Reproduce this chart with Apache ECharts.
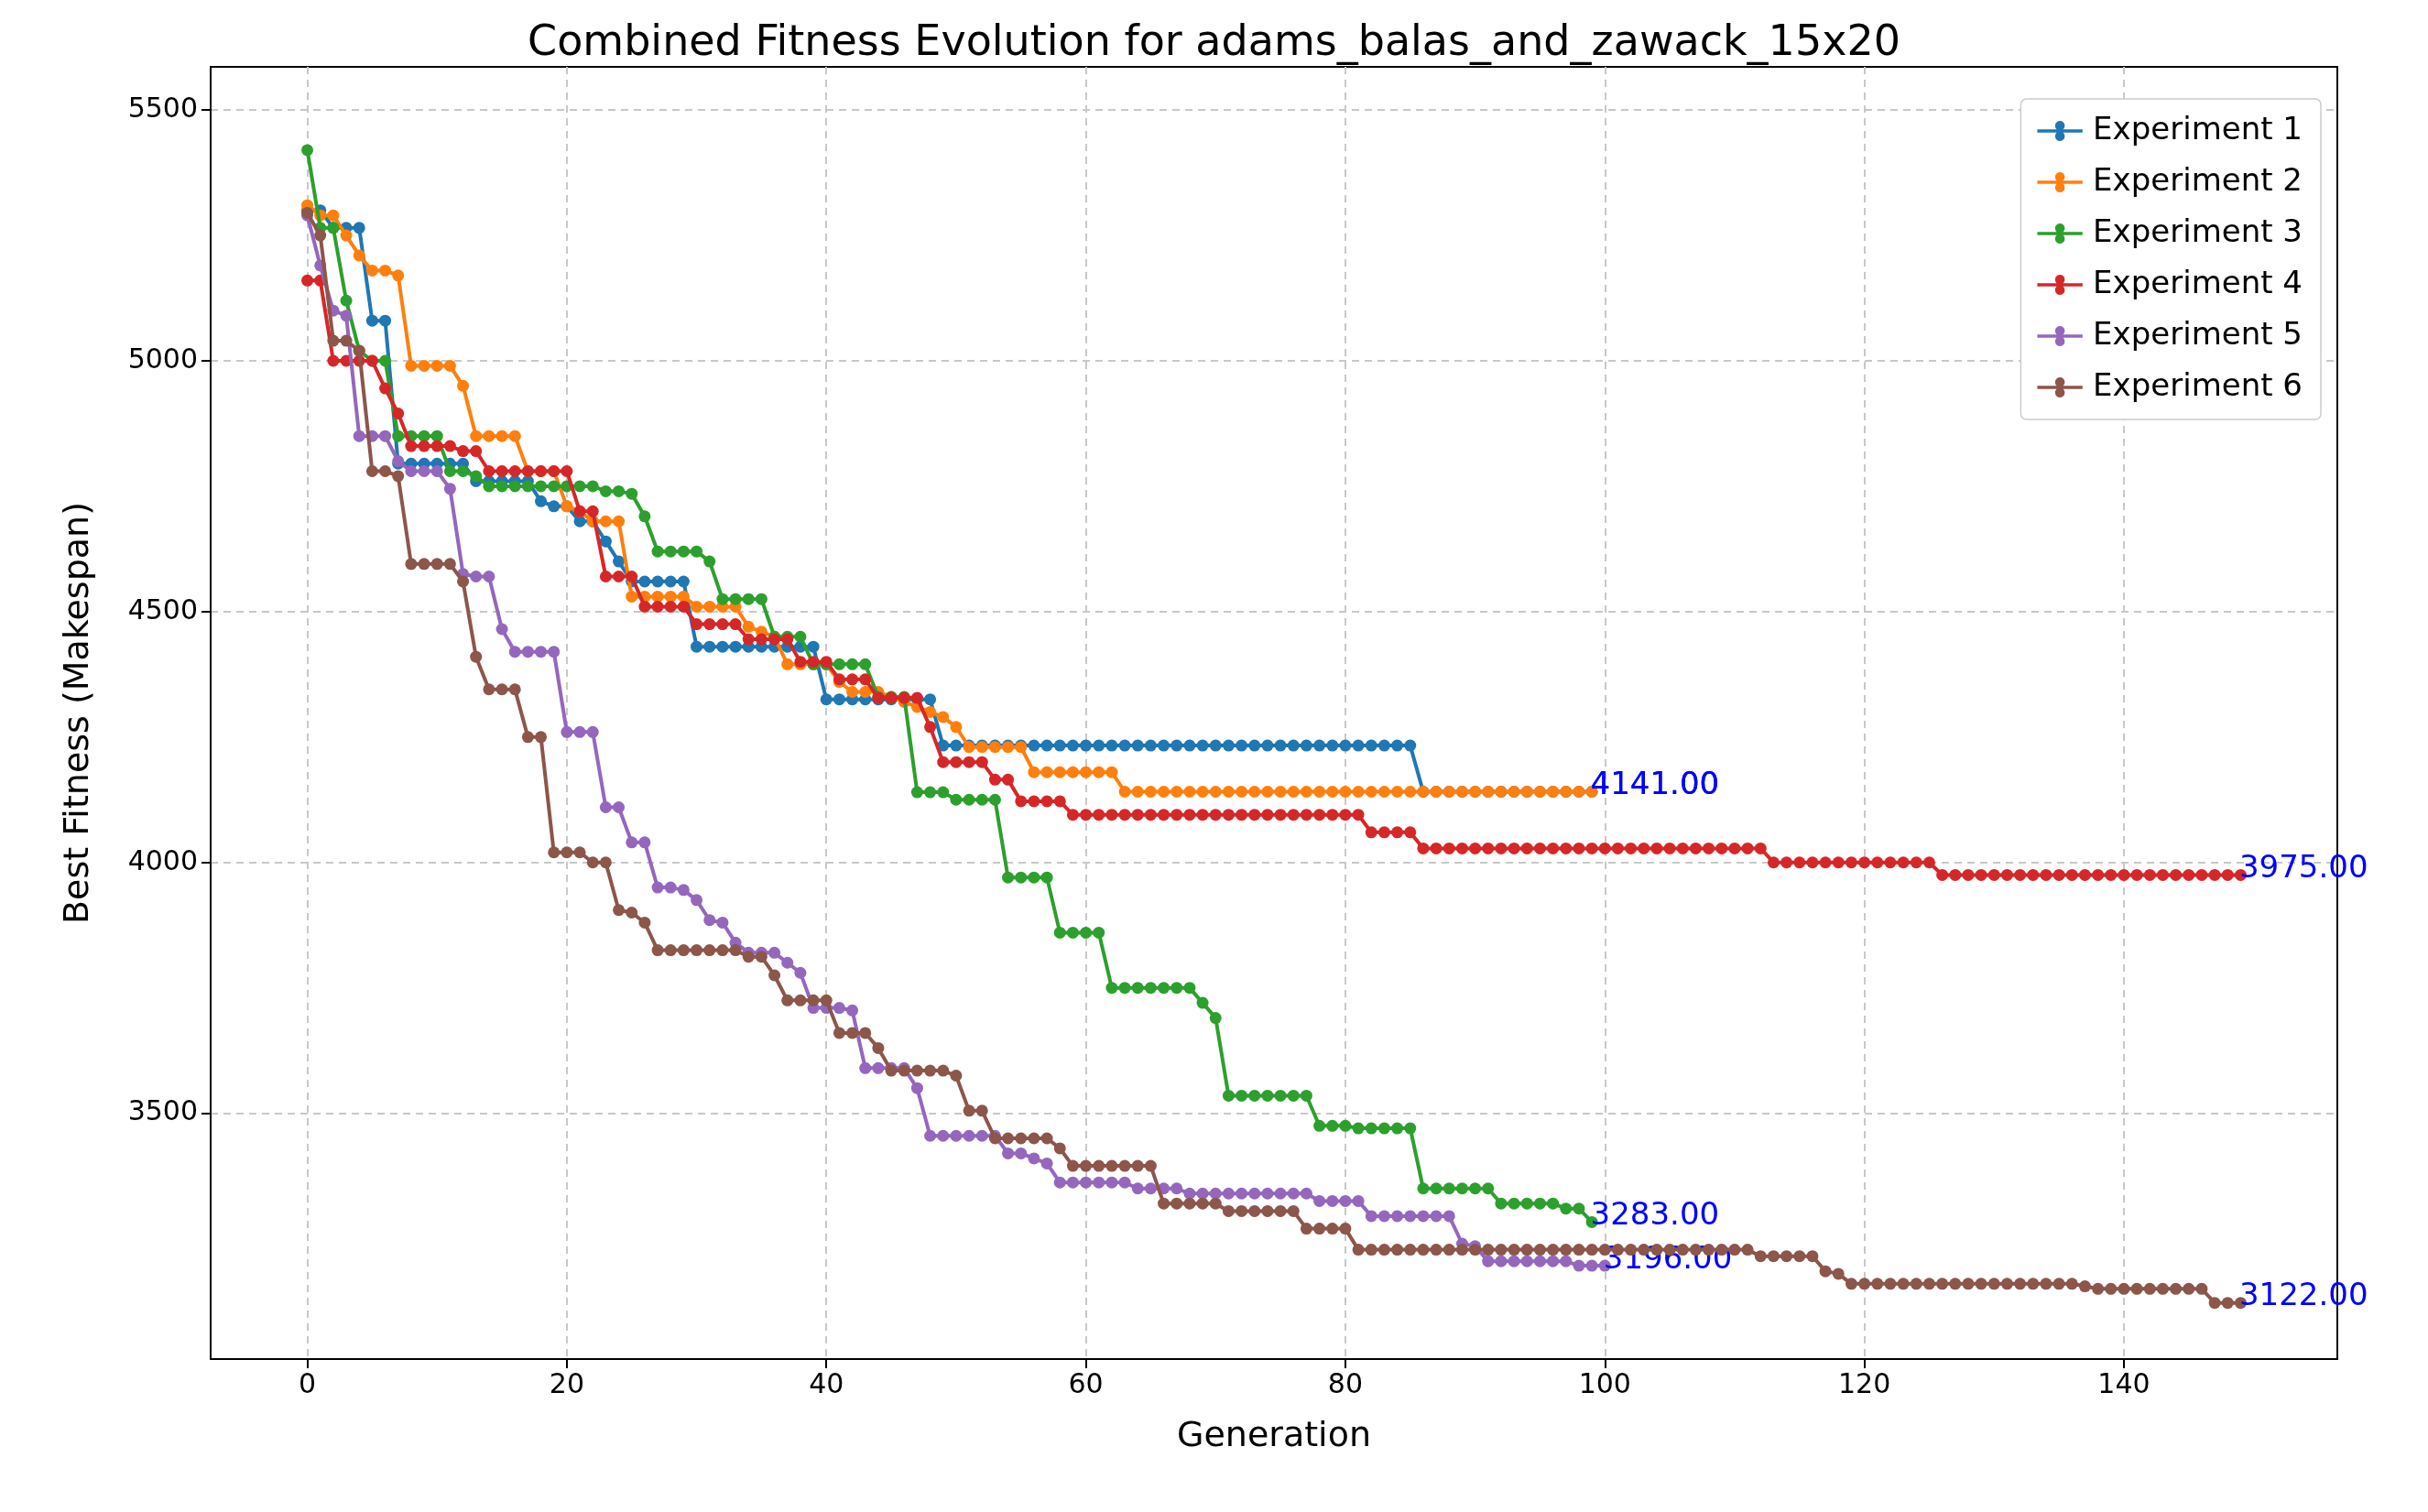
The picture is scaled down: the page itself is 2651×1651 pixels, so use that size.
<!DOCTYPE html>
<html>
<head>
<meta charset="UTF-8">
<script src="https://cdn.jsdelivr.net/npm/echarts@6/dist/echarts.min.js"></script>
</head>
<body style="margin:0">
<div id="c" style="width:2651px;height:1651px"></div>
<script>
function runs(list) { // [value, count] pairs expanded into per-generation values
  var out = [];
  list.forEach(function (p) { for (var i = 0; i < p[1]; i++) out.push(p[0]); });
  return out;
}
var names = ['Experiment 1', 'Experiment 2', 'Experiment 3', 'Experiment 4', 'Experiment 5', 'Experiment 6'];
var colors = ['#1f77b4', '#ff7f0e', '#2ca02c', '#d62728', '#9467bd', '#8c564b'];
var exp1 = runs([[5300,2],[5265,3],[5080,2],[4795,6],[4760,5],[4720,1],[4710,2],[4680,2],[4640,1],[4600,1],[4560,5],[4430,10],[4325,9],[4233,37],[4141,14]]);
var exp2 = runs([[5310,1],[5290,2],[5250,1],[5210,1],[5180,2],[5170,1],[4990,4],[4950,1],[4850,4],[4780,3],[4710,1],[4700,1],[4680,3],[4530,5],[4510,4],[4470,1],[4460,1],[4450,1],[4395,4],[4360,1],[4340,3],[4330,1],[4320,1],[4310,1],[4300,1],[4290,1],[4270,1],[4230,5],[4180,7],[4141,37]]);
var exp3 = runs([[5420,1],[5265,2],[5120,1],[5020,1],[5000,2],[4850,4],[4780,2],[4770,1],[4750,9],[4740,2],[4735,1],[4690,1],[4620,4],[4600,1],[4525,4],[4450,3],[4395,5],[4330,3],[4140,3],[4125,4],[3970,4],[3860,4],[3750,7],[3720,1],[3690,1],[3535,7],[3475,3],[3470,5],[3350,6],[3320,5],[3310,2],[3283,1]]);
var exp4 = runs([[5160,2],[5000,4],[4945,1],[4895,1],[4830,4],[4820,2],[4780,7],[4700,2],[4570,3],[4510,4],[4475,4],[4445,4],[4400,3],[4365,3],[4328,4],[4270,1],[4200,4],[4165,2],[4122,4],[4095,23],[4060,4],[4028,27],[4000,13],[3975,24]]);
var exp5 = runs([[5290,1],[5190,1],[5100,1],[5090,1],[4850,3],[4800,1],[4780,3],[4745,1],[4575,1],[4570,2],[4465,1],[4420,4],[4260,3],[4110,2],[4040,2],[3950,2],[3945,1],[3925,1],[3885,1],[3880,1],[3840,1],[3820,3],[3800,1],[3780,1],[3710,3],[3705,1],[3590,4],[3550,1],[3455,6],[3420,2],[3410,1],[3400,1],[3362,6],[3350,4],[3340,10],[3325,4],[3295,7],[3240,1],[3235,1],[3205,7],[3196,3]]);
var exp6 = runs([[5295,1],[5250,1],[5040,2],[5020,1],[4780,2],[4770,1],[4595,4],[4560,1],[4410,1],[4345,3],[4250,2],[4020,3],[4000,2],[3905,1],[3900,1],[3880,1],[3825,7],[3812,2],[3775,1],[3725,4],[3660,3],[3630,1],[3585,5],[3575,1],[3505,2],[3450,5],[3430,1],[3395,7],[3320,5],[3305,6],[3270,4],[3228,31],[3215,5],[3185,1],[3180,1],[3160,18],[3155,1],[3150,9],[3122,3]]);
var expData = [exp1, exp2, exp3, exp4, exp5, exp6];
var xTicks = [0, 20, 40, 60, 80, 100, 120, 140];
var yTicks = [3500, 4000, 4500, 5000, 5500];

var series = expData.map(function (d, k) {
  var pts = d.map(function (v, i) { return [i, v]; });
  var last = pts.length - 1;
  pts[last] = {
    value: pts[last],
    label: {
      show: true, position: 'right', distance: 0, offset: [-8, -6],
      formatter: function (p) { return p.value[1].toFixed(2); },
      color: '#0000ff', fontSize: 34, fontFamily: 'DejaVu Sans'
    }
  };
  return {
    name: names[k], type: 'line', data: pts, symbol: 'circle', symbolSize: 13,
    lineStyle: { width: 4, color: colors[k] }, itemStyle: { color: colors[k] },
    emphasis: { disabled: true }, animation: false, z: 2 + k
  };
});

var chart = echarts.init(document.getElementById('c'));
var font = 'DejaVu Sans';
var legendIcon = 'path://M0,8 L24,8 A6,6 0 1 1 32,8 L56,8 L56,12 L32,12 A6,6 0 1 1 24,12 L0,12 Z';
chart.setOption({
  backgroundColor: '#fff',
  textStyle: { fontFamily: font },
  title: { text: 'Combined Fitness Evolution for adams_balas_and_zawack_15x20', left: 'center', top: 20,
    textStyle: { fontSize: 46, fontWeight: 'normal', color: '#000', fontFamily: font } },
  grid: { left: 230, right: 99, top: 73, bottom: 167, containLabel: false,
    show: true, borderColor: '#000', borderWidth: 2 },
  legend: {
    orient: 'vertical', right: 117, top: 108, itemWidth: 62, itemHeight: 22, itemGap: 22,
    backgroundColor: '#fff', borderColor: '#ccc', borderWidth: 1.5, borderRadius: 6, padding: [18, 20, 18, 18],
    textStyle: { fontSize: 34, color: '#000', fontFamily: font },
    data: names.map(function (n) { return { name: n, icon: legendIcon }; })
  },
  xAxis: {
    type: 'value', min: -7.45, max: 156.45, name: 'Generation', nameLocation: 'middle', nameGap: 66,
    nameTextStyle: { fontSize: 38, color: '#000', fontFamily: font },
    axisLine: { onZero: false, lineStyle: { color: '#000', width: 2 } },
    axisTick: { length: 10, lineStyle: { color: '#000', width: 2 }, customValues: xTicks },
    axisLabel: { fontSize: 30, color: '#000', margin: 14, customValues: xTicks },
    splitLine: { show: true, lineStyle: { color: '#c8c8c8', type: [8, 6], width: 2 } }
  },
  yAxis: {
    type: 'value', min: 3010, max: 5586, name: 'Best Fitness (Makespan)', nameLocation: 'middle', nameGap: 125,
    nameTextStyle: { fontSize: 38, color: '#000', fontFamily: font },
    axisLine: { show: true, onZero: false, lineStyle: { color: '#000', width: 2 } },
    axisTick: { show: true, length: 10, lineStyle: { color: '#000', width: 2 }, customValues: yTicks },
    axisLabel: { fontSize: 30, color: '#000', margin: 14, customValues: yTicks,
      formatter: function (v) { return String(v); } },
    splitLine: { show: true, lineStyle: { color: '#c8c8c8', type: [8, 6], width: 2 } }
  },
  series: series
});
</script>
</body>
</html>
